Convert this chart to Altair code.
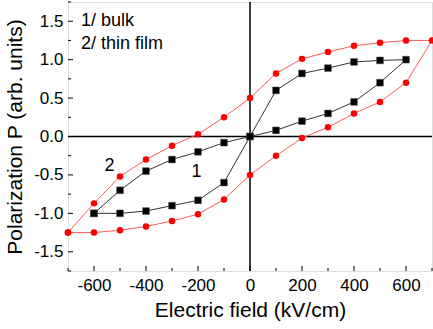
import altair as alt
import pandas as pd

# Thin film (curve 2) – closed hysteresis loop
film_E = [-700, -600, -500, -400, -300, -200, -100, 0, 100, 200, 300, 400, 500, 600, 700,
          600, 500, 400, 300, 200, 100, 0, -100, -200, -300, -400, -500, -600, -700]
film_P = [-1.25, -0.87, -0.52, -0.30, -0.12, 0.03, 0.25, 0.50, 0.82, 1.01, 1.10, 1.18, 1.22, 1.25, 1.25,
          0.70, 0.45, 0.30, 0.12, -0.02, -0.25, -0.50, -0.82, -1.01, -1.10, -1.17, -1.22, -1.25, -1.25]

# Bulk (curve 1)
bulk_E = [-600, -500, -400, -300, -200, -100, 0, 100, 200, 300, 400, 500, 600,
          500, 400, 300, 200, 100, 0, -100, -200, -300, -400, -500, -600]
bulk_P = [-1.00, -0.70, -0.45, -0.30, -0.20, -0.08, 0.0, 0.08, 0.20, 0.30, 0.45, 0.70, 1.00,
          0.99, 0.97, 0.89, 0.82, 0.60, 0.0, -0.60, -0.83, -0.90, -0.97, -1.00, -1.00]

x_major = [-600, -400, -200, 0, 200, 400, 600]
x_minor = [-700, -500, -300, -100, 100, 300, 500, 700]
y_major = [-1.5, -1.0, -0.5, 0.0, 0.5, 1.0, 1.5]
y_minor = [-1.75, -1.25, -0.75, -0.25, 0.25, 0.75, 1.25, 1.75]

note_text = ["1/ bulk", "2/ thin film", "1", "2"]
note_E = [-650, -650, -225, -560]
note_P = [1.50, 1.21, -0.46, -0.38]

W, H = 364, 269
FONT = "Liberation Sans"

film = pd.DataFrame({"E": film_E, "P": film_P, "o": range(len(film_E))})
bulk = pd.DataFrame({"E": bulk_E, "P": bulk_P, "o": range(len(bulk_E))})

xs = alt.Scale(domain=[-700, 700], nice=False, zero=False)
ys = alt.Scale(domain=[-1.75, 1.75], nice=False, zero=False)

xaxis = alt.Axis(values=x_major, ticks=False, domain=False, grid=False,
                 labelExpr="(datum.value < 0 ? '-' : '') + abs(datum.value)",
                 labelFontSize=17, labelPadding=6, titleFontSize=21,
                 titleFontWeight="normal", titlePadding=6, labelColor="black",
                 titleColor="black", labelFont=FONT, titleFont=FONT)
yaxis = alt.Axis(values=y_major, ticks=False, domain=False, grid=False,
                 labelExpr="(datum.value < 0 ? '-' : '') + format(abs(datum.value), '.1f')",
                 labelFontSize=17, labelPadding=5, titleFontSize=21,
                 titleFontWeight="normal", titlePadding=8, labelColor="black",
                 titleColor="black", labelFont=FONT, titleFont=FONT)

X = alt.X("E:Q", scale=xs, axis=xaxis, title="Electric field (kV/cm)")
Y = alt.Y("P:Q", scale=ys, axis=yaxis, title="Polarization P (arb. units)")

film_line = alt.Chart(film).mark_line(color="#ff5a5a", strokeWidth=1).encode(x=X, y=Y, order="o:Q")
film_pts = alt.Chart(film).mark_point(shape="circle", filled=True, color="#ff0000", size=42, opacity=1).encode(
    x=alt.X("E:Q", scale=xs), y=alt.Y("P:Q", scale=ys))
bulk_line = alt.Chart(bulk).mark_line(color="#333333", strokeWidth=1).encode(
    x=alt.X("E:Q", scale=xs), y=alt.Y("P:Q", scale=ys), order="o:Q")
bulk_pts = alt.Chart(bulk).mark_point(shape="square", filled=True, color="#000000", size=46, opacity=1,
                                      stroke="#555555", strokeWidth=0.5).encode(
    x=alt.X("E:Q", scale=xs), y=alt.Y("P:Q", scale=ys))

zero_v = alt.Chart(pd.DataFrame({"E": [0]})).mark_rule(color="black", strokeWidth=1.5).encode(
    x=alt.X("E:Q", scale=xs))
zero_h = alt.Chart(pd.DataFrame({"P": [0]})).mark_rule(color="black", strokeWidth=1.5).encode(
    y=alt.Y("P:Q", scale=ys))

def xticks(vals, ln):
    return alt.Chart(pd.DataFrame({"E": vals})).mark_rule(color="black", strokeWidth=1).encode(
        x=alt.X("E:Q", scale=xs), y=alt.value(H - ln), y2=alt.value(H))

def yticks(vals, ln):
    return alt.Chart(pd.DataFrame({"P": vals})).mark_rule(color="black", strokeWidth=1).encode(
        y=alt.Y("P:Q", scale=ys), x=alt.value(0), x2=alt.value(ln))

notes = alt.Chart(pd.DataFrame({"E": note_E, "P": note_P, "t": note_text})).mark_text(
    align="left", baseline="middle", fontSize=18, font=FONT, color="black").encode(
    x=alt.X("E:Q", scale=xs), y=alt.Y("P:Q", scale=ys), text="t:N")

chart = alt.layer(
    zero_v, zero_h,
    xticks(x_major, 5), xticks(x_minor, 3), yticks(y_major, 5), yticks(y_minor, 3),
    film_line, bulk_line, film_pts, bulk_pts, notes,
).properties(
    width=W, height=H,
    padding={"left": 68, "top": 2, "right": 1, "bottom": 58},
    autosize="none",
).configure_view(stroke="black", strokeWidth=1.5).configure(background="white")

# first layer with axes: put axis-bearing encodings on zero rules
chart.save("out.html", embed_options={"renderer": "svg", "actions": False})
